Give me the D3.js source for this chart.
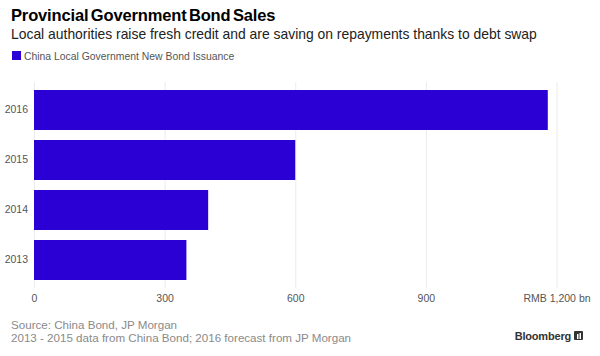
<!DOCTYPE html>
<html><head><meta charset="utf-8">
<script src="https://cdn.jsdelivr.net/npm/d3@7"></script>
<style>body{margin:0;background:#fff;}svg{display:block;font-family:"Liberation Sans",Arial,Helvetica,sans-serif;}</style>
</head><body>
<svg id="c" width="600" height="356"></svg>
<script>
const categories = ["2016", "2015", "2014", "2013"];
const values = [1180, 600, 400, 350];
const tickValues = [0, 300, 600, 900, 1200];
const tickLabels = ["0", "300", "600", "900", "RMB 1,200 bn"];
const seriesName = "China Local Government New Bond Issuance";

const svg = d3.select("#c");
const color = "#2a00d4";

const x = d3.scaleLinear().domain([0, 1200]).range([34, 556.5]);
const y = d3.scaleBand().domain(categories).range([85, 285]).paddingInner(0.2).paddingOuter(0.1);

// title
svg.append("text").attr("x", 11).attr("y", 21).attr("font-size", 16.5).attr("font-weight", "bold")
  .attr("fill", "#000").attr("letter-spacing", -0.15).attr("word-spacing", -2).text("Provincial Government Bond Sales");
svg.append("text").attr("x", 11).attr("y", 38.5).attr("font-size", 13.9).attr("fill", "#222")
  .text("Local authorities raise fresh credit and are saving on repayments thanks to debt swap");
svg.append("rect").attr("x", 12).attr("y", 51).attr("width", 9).attr("height", 9).attr("fill", color);
svg.append("text").attr("x", 24).attr("y", 60).attr("font-size", 10.4).attr("fill", "#555")
  .text(seriesName);

// gridlines
const xAxis = d3.axisBottom(x).tickValues(tickValues).tickFormat((d, i) => tickLabels[i])
  .tickSize(-(288 - 82)).tickPadding(7);
const gx = svg.append("g").attr("transform", "translate(0,288)").call(xAxis);
gx.select(".domain").remove();
gx.selectAll(".tick line").attr("stroke", "#ececec").attr("stroke-width", 1);
gx.selectAll(".tick text").attr("font-size", 10.5).attr("fill", "#555")
  .attr("font-family", "'Liberation Sans',Arial,sans-serif");

// bars
svg.append("g").selectAll("rect").data(categories).join("rect")
  .attr("x", x(0)).attr("y", d => y(d))
  .attr("width", (d, i) => x(values[i]) - x(0))
  .attr("height", y.bandwidth()).attr("fill", color);

// y axis labels
const yAxis = d3.axisLeft(y).tickSize(0).tickPadding(6);
const gy = svg.append("g").attr("transform", "translate(" + x(0) + ",0)").call(yAxis);
gy.select(".domain").remove();
gy.selectAll(".tick text").attr("font-size", 10.5).attr("fill", "#555")
  .attr("font-family", "'Liberation Sans',Arial,sans-serif");

// footer
svg.append("text").attr("x", 11).attr("y", 329).attr("font-size", 11.6).attr("fill", "#8a8a8a")
  .text("Source: China Bond, JP Morgan");
svg.append("text").attr("x", 11).attr("y", 342).attr("font-size", 11.6).attr("fill", "#8a8a8a")
  .text("2013 - 2015 data from China Bond; 2016 forecast from JP Morgan");
svg.append("text").attr("x", 571).attr("y", 340).attr("text-anchor", "end").attr("font-size", 11)
  .attr("font-weight", "bold").attr("fill", "#333").attr("letter-spacing", -0.2).text("Bloomberg");
const lg = svg.append("g").attr("transform", "translate(574,331)");
lg.append("rect").attr("width", 9).attr("height", 9).attr("rx", 1).attr("fill", "#333");
lg.append("rect").attr("x", 3).attr("y", 3).attr("width", 1.5).attr("height", 5).attr("fill", "#fff");
lg.append("rect").attr("x", 5.5).attr("y", 2).attr("width", 1.5).attr("height", 6).attr("fill", "#fff");
</script>
</body></html>
